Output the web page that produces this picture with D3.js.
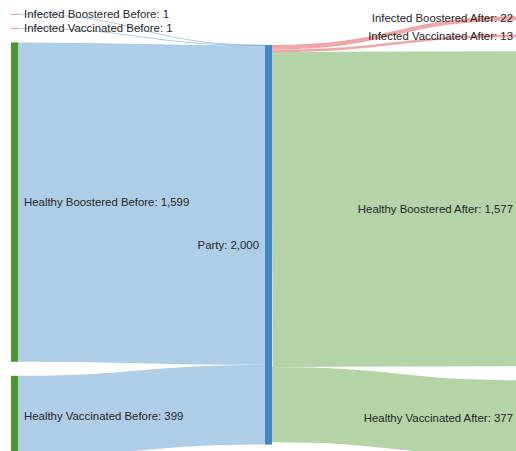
<!DOCTYPE html>
<html>
<head>
<meta charset="utf-8">
<script src="https://cdn.jsdelivr.net/npm/d3@7"></script>
<style>
  body { margin: 0; background: #fff; }
  svg { display: block; overflow: hidden; }
  .label { font-family: "Liberation Sans", Arial, Helvetica, sans-serif; font-size: 11.4px; fill: #262626; }
</style>
</head>
<body>
<svg id="sankey" width="516" height="451"></svg>
<script>
// nodes
var nodeNames = [
  "Infected Boostered Before", "Infected Vaccinated Before",
  "Healthy Boostered Before", "Healthy Vaccinated Before",
  "Party",
  "Infected Boostered After", "Infected Vaccinated After",
  "Healthy Boostered After", "Healthy Vaccinated After"
];
var nodeGroups = ["Infected", "Infected", "Healthy", "Healthy", "Party",
                  "Infected", "Infected", "Healthy", "Healthy"];

// links (by node index)
var linkSources = [0, 1, 2, 3, 4, 4, 4, 4];
var linkTargets = [4, 4, 4, 4, 5, 6, 7, 8];
var linkValues  = [1, 1, 1599, 399, 22, 13, 1577, 377];

var nodeColor = { Healthy: "#4c972b", Infected: "#d62d30", Party: "#3f88c5" };

// layout settings
var svg = d3.select("#sankey"),
    extent = { x0: 11, x1: 526, y0: 14, y1: 455.5 },
    nodeWidth = 7,
    nodePadding = 14;

var fmt = d3.format(",");

var nodes = nodeNames.map(function(n, i) {
  return { index: i, name: n, group: nodeGroups[i], sourceLinks: [], targetLinks: [] };
});
var links = linkValues.map(function(v, i) {
  var l = { source: nodes[linkSources[i]], target: nodes[linkTargets[i]], value: v };
  l.source.sourceLinks.push(l);
  l.target.targetLinks.push(l);
  return l;
});

nodes.forEach(function(n) {
  n.value = Math.max(d3.sum(n.sourceLinks, function(l) { return l.value; }),
                     d3.sum(n.targetLinks, function(l) { return l.value; }));
});

// depth by walking links
var current = nodes.filter(function(n) { return n.targetLinks.length === 0; }), depth = 0;
while (current.length) {
  var next = [];
  current.forEach(function(n) {
    n.depth = depth;
    n.sourceLinks.forEach(function(l) { if (next.indexOf(l.target) < 0) next.push(l.target); });
  });
  current = next;
  depth++;
}
var maxDepth = d3.max(nodes, function(n) { return n.depth; });

var x = d3.scaleLinear()
  .domain([0, maxDepth])
  .range([extent.x0, extent.x1 - nodeWidth]);

var columns = d3.groups(nodes, function(n) { return n.depth; }).map(function(g) { return g[1]; });

var ky = d3.min(columns, function(c) {
  return (extent.y1 - extent.y0 - (c.length - 1) * nodePadding) / d3.sum(c, function(n) { return n.value; });
});
var h = d3.scaleLinear().domain([0, 1]).range([0, ky]);

nodes.forEach(function(n) {
  n.x0 = x(n.depth);
  n.x1 = n.x0 + nodeWidth;
});

// stacked columns: bottom aligned
columns.filter(function(c) { return c.length > 1; }).forEach(function(c) {
  var y = extent.y1;
  c.slice().reverse().forEach(function(n) {
    n.y1 = y;
    n.y0 = y - h(n.value);
    y = n.y0 - nodePadding;
  });
});

// single-node columns: centred on their neighbours
columns.filter(function(c) { return c.length === 1; }).forEach(function(c) {
  var n = c[0];
  var nb = n.sourceLinks.map(function(l) { return { v: l.value, n: l.target }; })
    .concat(n.targetLinks.map(function(l) { return { v: l.value, n: l.source }; }));
  var cy = d3.sum(nb, function(d) { return d.v * (d.n.y0 + d.n.y1) / 2; }) / d3.sum(nb, function(d) { return d.v; });
  n.y0 = cy - h(n.value) / 2;
  n.y1 = n.y0 + h(n.value);
});

// link positions
links.forEach(function(l) { l.width = h(l.value); });
nodes.forEach(function(n) {
  var y0 = n.y0, y1 = n.y0;
  n.sourceLinks.sort(function(a, b) { return a.target.y0 - b.target.y0; })
    .forEach(function(l) { l.y0 = y0 + l.width / 2; y0 += l.width; });
  n.targetLinks.sort(function(a, b) { return a.source.y0 - b.source.y0; })
    .forEach(function(l) { l.y1 = y1 + l.width / 2; y1 += l.width; });
});

var linkPath = d3.linkHorizontal()
  .source(function(d) { return [d.source.x1, d.y0]; })
  .target(function(d) { return [d.target.x0, d.y1]; });

// links
svg.append("g")
  .attr("fill", "none")
  .selectAll("path")
  .data(links)
  .join("path")
  .attr("d", linkPath)
  .attr("stroke", function(d) { return nodeColor[d.target.group]; })
  .attr("stroke-opacity", 0.42)
  .attr("stroke-width", function(d) { return Math.max(1, d.width); });

// nodes
svg.append("g")
  .selectAll("rect")
  .data(nodes)
  .join("rect")
  .attr("x", function(d) { return d.x0; })
  .attr("y", function(d) { return d.y0; })
  .attr("width", function(d) { return d.x1 - d.x0; })
  .attr("height", function(d) { return Math.max(0.5, d.y1 - d.y0); })
  .attr("fill", function(d) { return nodeColor[d.group]; });

// labels
var midX = (extent.x0 + extent.x1) / 2;
svg.append("g")
  .selectAll("text")
  .data(nodes)
  .join("text")
  .attr("class", "label")
  .attr("x", function(d) { return d.x0 < midX - 20 ? d.x1 + 6 : d.x0 - 6; })
  .attr("y", function(d) { return (d.y0 + d.y1) / 2; })
  .attr("dy", "0.35em")
  .attr("text-anchor", function(d) { return d.x0 < midX - 20 ? "start" : "end"; })
  .text(function(d) { return d.name + ": " + fmt(d.value); });
</script>
</body>
</html>
